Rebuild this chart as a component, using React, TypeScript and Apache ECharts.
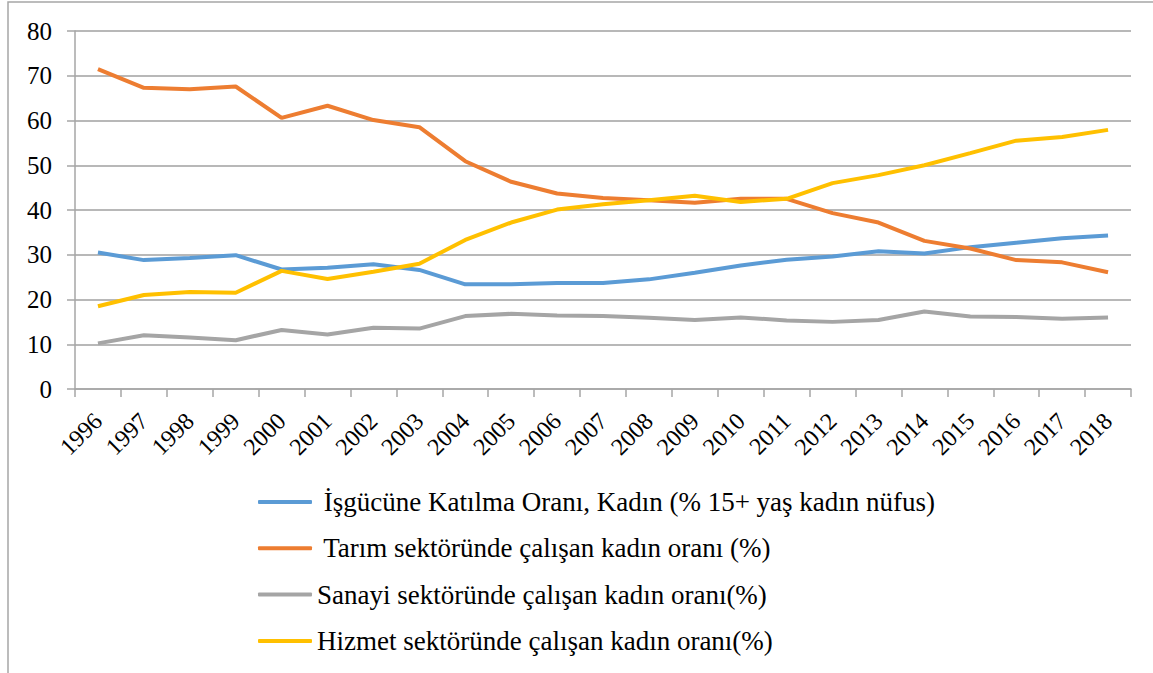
import React, { useEffect, useRef } from "react";
import * as echarts from "echarts";

const years = ["1996","1997","1998","1999","2000","2001","2002","2003","2004","2005","2006","2007","2008","2009","2010","2011","2012","2013","2014","2015","2016","2017","2018"];
const isgucu = [30.5,28.8,29.3,29.9,26.7,27.1,27.9,26.6,23.4,23.4,23.7,23.7,24.5,26.0,27.6,28.9,29.6,30.8,30.3,31.7,32.7,33.7,34.3];
const tarim = [71.5,67.3,67.0,67.6,60.6,63.3,60.1,58.5,50.9,46.3,43.7,42.7,42.2,41.6,42.5,42.5,39.3,37.2,33.1,31.4,28.8,28.3,26.1];
const sanayi = [10.2,12.0,11.5,10.9,13.2,12.2,13.7,13.5,16.3,16.8,16.4,16.3,15.9,15.4,16.0,15.3,15.0,15.4,17.3,16.2,16.1,15.7,16.0];
const hizmet = [18.5,21.0,21.7,21.5,26.4,24.6,26.2,28.0,33.3,37.2,40.1,41.3,42.2,43.2,41.8,42.5,46.0,47.8,50.0,52.7,55.5,56.3,57.9];

const names = [
  " İşgücüne Katılma Oranı, Kadın (% 15+ yaş kadın nüfus)",
  " Tarım sektöründe çalışan kadın oranı (%)",
  "Sanayi sektöründe çalışan kadın oranı(%)",
  "Hizmet sektöründe çalışan kadın oranı(%)",
];
const colors = ["#5B9BD5", "#ED7D31", "#A5A5A5", "#FFC000"];

export default function App() {
  const ref = useRef<HTMLDivElement>(null);
  useEffect(() => {
    document.body.style.margin = "0";
    const chart = echarts.init(ref.current!, null, { renderer: "svg" });
    const font = "Liberation Serif";
    const data = [isgucu, tarim, sanayi, hizmet];
    chart.setOption({
      animation: false,
      textStyle: { fontFamily: font },
      graphic: [
        {
          type: "rect",
          shape: { x: 8, y: 2, width: 1170, height: 700 },
          style: { fill: "none", stroke: "#a6a6a6", lineWidth: 1.5 },
          silent: true,
        },
      ],
      grid: { left: 75, right: 22, top: 31, height: 358, containLabel: false },
      xAxis: {
        type: "category",
        data: years,
        boundaryGap: true,
        axisLine: { show: true, lineStyle: { color: "#a6a6a6", width: 1.5 } },
        axisTick: { show: true, length: 8, lineStyle: { color: "#a6a6a6", width: 1.5 } },
        axisLabel: { rotate: 45, fontSize: 24, color: "#000", margin: 28, fontFamily: font, interval: 0 },
        splitLine: { show: false },
      },
      yAxis: {
        type: "value",
        min: 0,
        max: 80,
        interval: 10,
        axisLine: { show: true, lineStyle: { color: "#a6a6a6", width: 1.5 } },
        axisTick: { show: true, length: 8, lineStyle: { color: "#a6a6a6", width: 1.5 } },
        axisLabel: { fontSize: 25, color: "#000", margin: 23, fontFamily: font },
        splitLine: { show: true, lineStyle: { color: "#a0a0a0", width: 1.5 } },
      },
      legend: {
        orient: "vertical",
        left: 253,
        top: 483,
        itemWidth: 54,
        itemHeight: 4,
        itemGap: 18.3,
        icon: "roundRect",
        textStyle: { fontSize: 27, color: "#000", fontFamily: font, lineHeight: 28 },
        data: names.map((n, i) => ({ name: n, itemStyle: { color: colors[i] } })),
      },
      series: data.map((d, i) => ({
        name: names[i],
        type: "line",
        data: d,
        symbol: "none",
        smooth: false,
        color: colors[i],
        lineStyle: { width: 4, color: colors[i] },
      })),
    });
    return () => chart.dispose();
  }, []);
  return <div ref={ref} style={{ width: 1153, height: 673 }} />;
}
